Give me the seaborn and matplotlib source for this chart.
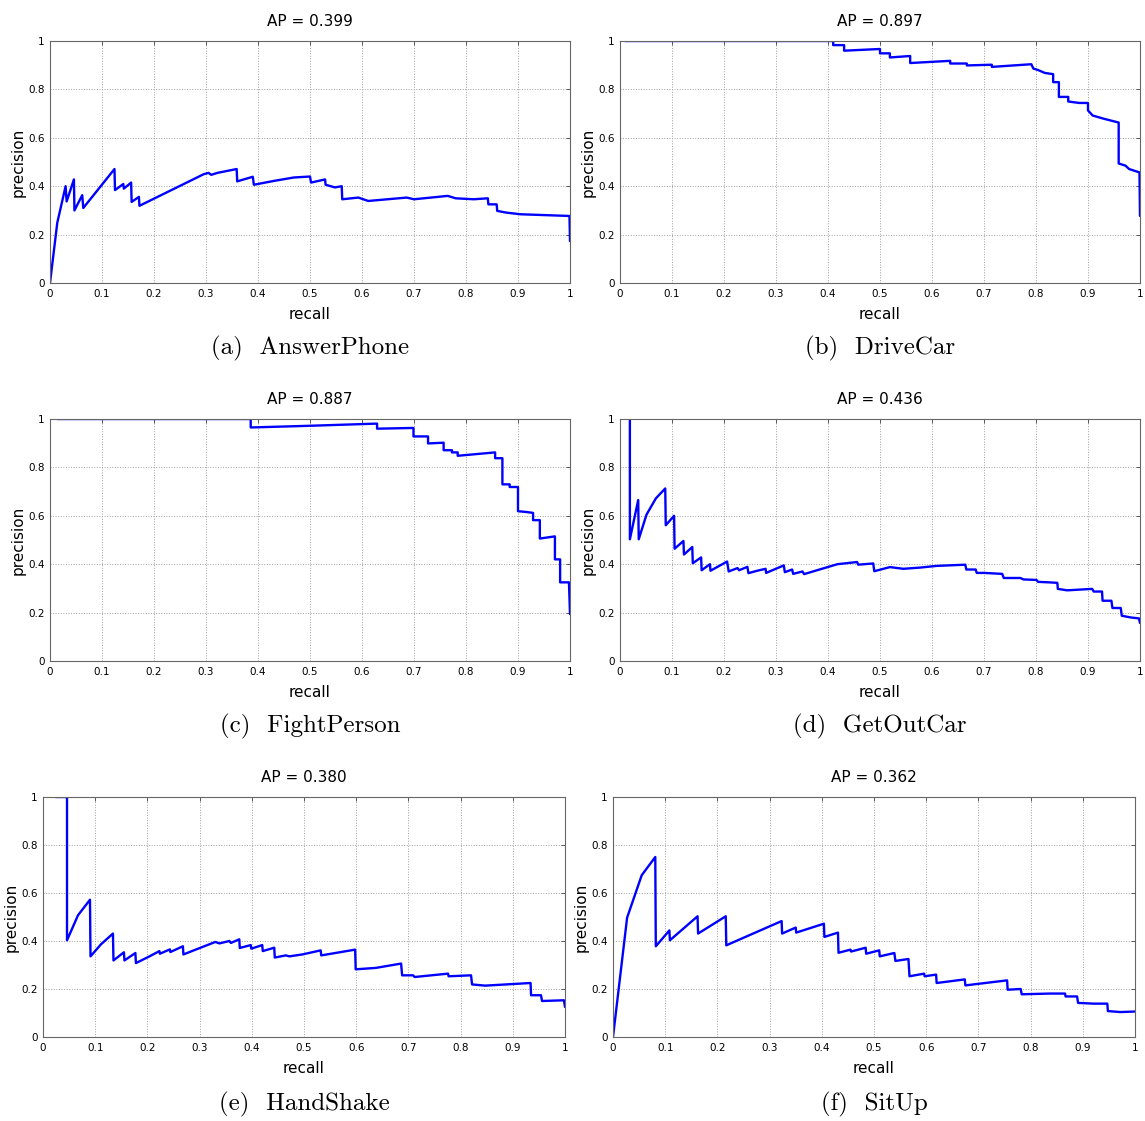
import pandas as pd
import matplotlib
matplotlib.use("Agg")
import matplotlib.pyplot as plt
import seaborn as sns

# =========================
# DATA
# =========================

answerphone_recall = [0, 0.014, 0.030, 0.032, 0.046, 0.047, 0.062, 0.064, 0.124, 0.125,
                      0.141, 0.142, 0.156, 0.157, 0.171, 0.172, 0.296, 0.305, 0.31, 0.322,
                      0.359, 0.36, 0.39, 0.392, 0.431, 0.469, 0.5, 0.502, 0.529, 0.53,
                      0.548, 0.561, 0.562, 0.593, 0.612, 0.686, 0.70, 0.765, 0.78, 0.815,
                      0.842, 0.843, 0.859, 0.86, 0.877, 0.905, 0.999, 1.0]
answerphone_precision = [0, 0.249, 0.40, 0.337, 0.428, 0.30, 0.363, 0.31, 0.471, 0.384,
                         0.409, 0.39, 0.415, 0.335, 0.356, 0.319, 0.45, 0.455, 0.447, 0.455,
                         0.471, 0.42, 0.439, 0.406, 0.422, 0.436, 0.44, 0.415, 0.428, 0.406,
                         0.395, 0.40, 0.346, 0.353, 0.339, 0.353, 0.346, 0.36, 0.35, 0.346,
                         0.35, 0.325, 0.325, 0.298, 0.291, 0.284, 0.277, 0.173]

drivecar_recall = [0.01, 0.41, 0.41, 0.431, 0.431, 0.5, 0.5, 0.519, 0.519, 0.558,
                   0.558, 0.635, 0.635, 0.667, 0.667, 0.715, 0.715, 0.791, 0.795, 0.804,
                   0.817, 0.833, 0.833, 0.844, 0.844, 0.862, 0.862, 0.883, 0.9, 0.9,
                   0.909, 0.93, 0.959, 0.959, 0.972, 0.979, 0.999, 1.0]
drivecar_precision = [1.0, 1.0, 0.983, 0.983, 0.96, 0.967, 0.949, 0.949, 0.932, 0.938,
                      0.909, 0.918, 0.907, 0.907, 0.899, 0.902, 0.893, 0.904, 0.886, 0.88,
                      0.868, 0.863, 0.83, 0.83, 0.769, 0.769, 0.75, 0.744, 0.744, 0.713,
                      0.692, 0.679, 0.663, 0.494, 0.485, 0.471, 0.457, 0.277]

fightperson_recall = [0.014, 0.386, 0.386, 0.5, 0.629, 0.629, 0.699, 0.699, 0.727, 0.727,
                      0.757, 0.757, 0.773, 0.773, 0.784, 0.784, 0.856, 0.856, 0.87, 0.87,
                      0.884, 0.884, 0.9, 0.9, 0.915, 0.929, 0.929, 0.942, 0.942, 0.971,
                      0.971, 0.981, 0.981, 0.998, 1.0]
fightperson_precision = [1.0, 1.0, 0.965, 0.972, 0.981, 0.96, 0.963, 0.928, 0.928, 0.899,
                         0.902, 0.871, 0.871, 0.862, 0.862, 0.848, 0.862, 0.838, 0.838, 0.73,
                         0.73, 0.719, 0.719, 0.619, 0.616, 0.612, 0.582, 0.582, 0.506, 0.515,
                         0.42, 0.42, 0.325, 0.325, 0.194]

getoutcar_recall = [0.019, 0.019, 0.035, 0.036, 0.051, 0.069, 0.087, 0.088, 0.104, 0.105,
                    0.122, 0.123, 0.139, 0.140, 0.156, 0.157, 0.173, 0.174, 0.206, 0.209,
                    0.226, 0.229, 0.245, 0.247, 0.264, 0.28, 0.281, 0.315, 0.317, 0.331,
                    0.333, 0.351, 0.354, 0.418, 0.456, 0.458, 0.487, 0.489, 0.519, 0.545,
                    0.577, 0.609, 0.664, 0.666, 0.684, 0.686, 0.70, 0.735, 0.738, 0.77,
                    0.776, 0.801, 0.804, 0.825, 0.841, 0.842, 0.86, 0.908, 0.911, 0.927,
                    0.928, 0.945, 0.947, 0.963, 0.965, 0.982, 0.998, 1.0]
getoutcar_precision = [1.0, 0.503, 0.665, 0.503, 0.605, 0.672, 0.713, 0.561, 0.60, 0.464,
                       0.496, 0.44, 0.471, 0.404, 0.428, 0.375, 0.40, 0.373, 0.411, 0.37,
                       0.384, 0.375, 0.389, 0.363, 0.373, 0.381, 0.364, 0.395, 0.367, 0.378,
                       0.36, 0.37, 0.359, 0.40, 0.409, 0.398, 0.403, 0.371, 0.388, 0.381,
                       0.386, 0.393, 0.398, 0.378, 0.378, 0.364, 0.364, 0.36, 0.343, 0.343,
                       0.337, 0.335, 0.327, 0.325, 0.323, 0.298, 0.292, 0.298, 0.287, 0.287,
                       0.249, 0.249, 0.219, 0.219, 0.187, 0.18, 0.176, 0.157]

handshake_recall = [0.024, 0.046, 0.046, 0.067, 0.09, 0.091, 0.111, 0.134, 0.135, 0.155,
                    0.156, 0.177, 0.178, 0.204, 0.223, 0.224, 0.243, 0.244, 0.268, 0.269,
                    0.33, 0.338, 0.357, 0.36, 0.376, 0.377, 0.398, 0.399, 0.42, 0.421,
                    0.443, 0.444, 0.465, 0.472, 0.497, 0.532, 0.533, 0.598, 0.599, 0.638,
                    0.686, 0.688, 0.709, 0.712, 0.776, 0.777, 0.82, 0.822, 0.847, 0.934,
                    0.935, 0.954, 0.956, 0.998, 1.0]
handshake_precision = [1.0, 1.0, 0.403, 0.507, 0.572, 0.336, 0.386, 0.431, 0.319, 0.353,
                       0.319, 0.35, 0.308, 0.336, 0.358, 0.347, 0.365, 0.354, 0.378, 0.344,
                       0.396, 0.39, 0.40, 0.392, 0.407, 0.371, 0.383, 0.368, 0.383, 0.358,
                       0.372, 0.331, 0.34, 0.336, 0.344, 0.361, 0.34, 0.364, 0.282, 0.288,
                       0.306, 0.257, 0.257, 0.25, 0.264, 0.253, 0.257, 0.219, 0.214, 0.225,
                       0.174, 0.174, 0.15, 0.153, 0.125]

situp_recall = [0.0, 0.027, 0.055, 0.081, 0.082, 0.108, 0.109, 0.162, 0.163, 0.216,
                0.217, 0.323, 0.324, 0.35, 0.351, 0.404, 0.405, 0.431, 0.432, 0.455,
                0.456, 0.484, 0.485, 0.51, 0.511, 0.539, 0.541, 0.566, 0.568, 0.596,
                0.597, 0.619, 0.62, 0.674, 0.675, 0.755, 0.756, 0.781, 0.783, 0.837,
                0.866, 0.867, 0.889, 0.891, 0.921, 0.947, 0.948, 0.972, 0.999]
situp_precision = [0.0, 0.497, 0.674, 0.75, 0.378, 0.444, 0.403, 0.503, 0.431, 0.503,
                   0.382, 0.483, 0.431, 0.456, 0.435, 0.472, 0.417, 0.435, 0.351, 0.364,
                   0.356, 0.372, 0.347, 0.361, 0.336, 0.35, 0.317, 0.325, 0.253, 0.264,
                   0.253, 0.26, 0.225, 0.24, 0.215, 0.236, 0.197, 0.2, 0.178, 0.181,
                   0.181, 0.169, 0.169, 0.142, 0.139, 0.139, 0.108, 0.104, 0.106]

ap_titles = ["AP = 0.399", "AP = 0.897", "AP = 0.887", "AP = 0.436", "AP = 0.380", "AP = 0.362"]
captions = ["(a)  AnswerPhone", "(b)  DriveCar", "(c)  FightPerson",
            "(d)  GetOutCar", "(e)  HandShake", "(f)  SitUp"]

x_ticks = [0, 0.1, 0.2, 0.3, 0.4, 0.5, 0.6, 0.7, 0.8, 0.9, 1]
x_tick_labels = ["0", "0.1", "0.2", "0.3", "0.4", "0.5", "0.6", "0.7", "0.8", "0.9", "1"]
y_ticks = [0, 0.2, 0.4, 0.6, 0.8, 1]
y_tick_labels = ["0", "0.2", "0.4", "0.6", "0.8", "1"]

curves = [
    (answerphone_recall, answerphone_precision),
    (drivecar_recall, drivecar_precision),
    (fightperson_recall, fightperson_precision),
    (getoutcar_recall, getoutcar_precision),
    (handshake_recall, handshake_precision),
    (situp_recall, situp_precision),
]

# =========================
# STYLE
# =========================

sns.set_style("white")
plt.rcParams["font.family"] = ["DejaVu Sans"]
plt.rcParams["text.color"] = "black"
plt.rcParams["axes.labelcolor"] = "black"

W, H = 1145, 1121
fig = plt.figure(figsize=(W / 100, H / 100), dpi=100)

# axes boxes in pixels: left, right, top, bottom
boxes = [
    (50, 570, 41, 283),
    (620, 1140, 41, 283),
    (50, 570, 419, 661),
    (620, 1140, 419, 661),
    (43, 565, 797, 1037),
    (613, 1135, 797, 1037),
]
caption_y = [348, 348, 726, 726, 1104, 1104]

# =========================
# PANELS
# =========================

for i, (rec, prec) in enumerate(curves):
    l, r, t, b = boxes[i]
    ax = fig.add_axes([l / W, 1 - b / H, (r - l) / W, (b - t) / H])

    df = pd.DataFrame({"recall": rec, "precision": prec})
    sns.lineplot(data=df, x="recall", y="precision", ax=ax, sort=False,
                 estimator=None, color="#0000ff", linewidth=1.7)

    ax.set_xlim(0, 1)
    ax.set_ylim(0, 1)
    ax.set_xticks(x_ticks)
    ax.set_xticklabels(x_tick_labels)
    ax.set_yticks(y_ticks)
    ax.set_yticklabels(y_tick_labels)
    ax.tick_params(direction="in", length=3, width=0.6, labelsize=7.5,
                   top=True, right=True, pad=4, colors="#444444", labelcolor="black")
    ax.grid(True, linestyle=":", color="#a0a0a0", linewidth=0.7)
    for s in ax.spines.values():
        s.set_color("#666666")
        s.set_linewidth(0.8)

    ax.set_title(ap_titles[i], fontsize=11, pad=11, color="black")
    ax.set_xlabel("recall", fontsize=11, labelpad=6)
    ax.set_ylabel("precision", fontsize=11, labelpad=2)

    fig.text((l + r) / 2 / W, 1 - caption_y[i] / H, captions[i],
             ha="center", va="center", fontsize=18, color="black",
             family=["cmr10", "DejaVu Serif"])

plt.savefig("out.png", dpi=100)
